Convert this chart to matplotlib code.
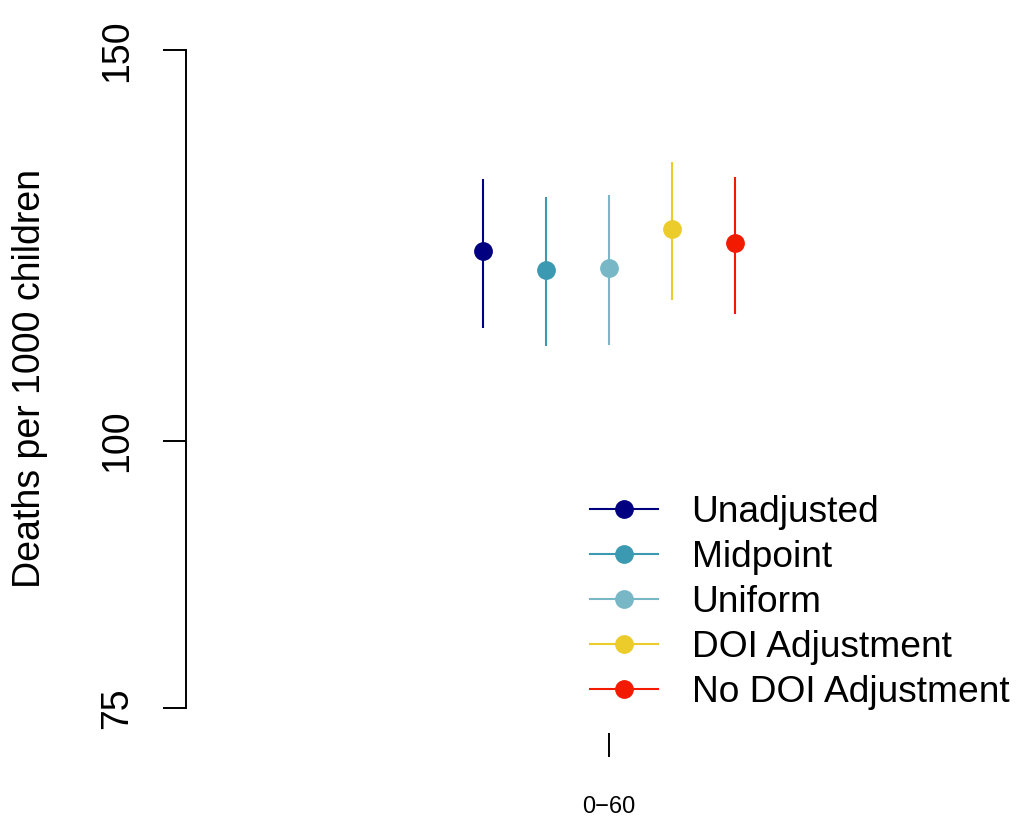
import matplotlib
matplotlib.use("Agg")
import matplotlib.pyplot as plt
import numpy as np

plt.rcParams['font.family'] = ['Liberation Sans', 'DejaVu Sans']

# estimates of under-5 mortality by method, with interval bounds
methods = ['Unadjusted', 'Midpoint', 'Uniform', 'DOI Adjustment', 'No DOI Adjustment']
est = [122.0, 119.7, 119.9, 124.9, 123.0]
lower = [112.6, 110.5, 110.6, 116.0, 114.3]
upper = [131.5, 129.0, 129.3, 133.8, 131.8]
colors = ['#000080', '#3B9AB2', '#78B7C5', '#EBCC2A', '#F21A00']
offsets = [-0.2, -0.1, 0.0, 0.1, 0.2]
group = 1
group_label = '0\u221260'
yticks = [75, 100, 150]

fig = plt.figure(figsize=(10.2, 8.19), dpi=100)
ax = fig.add_axes([186/1020, (819-733)/819, 814/1020, 708/819])

# power scale so the axis stretches like the original
p = 0.1
ax.set_yscale('function', functions=(lambda v: np.power(np.clip(v, 1e-9, None), p),
                                     lambda v: np.power(np.clip(v, 1e-9, None), 1/p)))

for i in range(len(methods)):
    x = group + offsets[i]
    ax.plot([x, x], [lower[i], upper[i]], color=colors[i], lw=1.5, solid_capstyle='butt')
    ax.plot(x, est[i], 'o', color=colors[i], ms=12.5, mec=colors[i], label=methods[i])

ax.set_xlim(group - (609-186)/630, group + (1000-609)/630)
ax.set_ylim(72.99, 153.94)

for s in ['top', 'right', 'bottom']:
    ax.spines[s].set_visible(False)
ax.spines['left'].set_bounds(75, 150)
ax.spines['left'].set_linewidth(1.4)

ax.set_yticks(yticks)
ax.set_yticklabels([str(v) for v in yticks], rotation=90, va='center', fontsize=27)
ax.yaxis.set_minor_locator(matplotlib.ticker.NullLocator())
ax.tick_params(axis='y', length=16.5, width=1.4, pad=20)

ax.set_xticks([group])
ax.set_xticklabels([group_label], fontsize=17)
ax.tick_params(axis='x', length=17.5, width=1.4, pad=28)

ax.set_ylabel('Deaths per 1000 children', fontsize=27, va='center')
ax.yaxis.set_label_coords((30-186)/814, 0.5)

# legend handles: line through a dot
handles = [plt.Line2D([0], [0], color=c, lw=1.5, marker='o', ms=12.5) for c in colors]
leg = ax.legend(handles, methods, loc='upper left', bbox_to_anchor=(590/1020, (819-494.5)/819),
                bbox_transform=fig.transFigure, frameon=False, fontsize=26.7,
                handlelength=1.84, handletextpad=0.9, labelspacing=0.275, borderpad=0, borderaxespad=0)

fig.savefig('out.png', dpi=100)
